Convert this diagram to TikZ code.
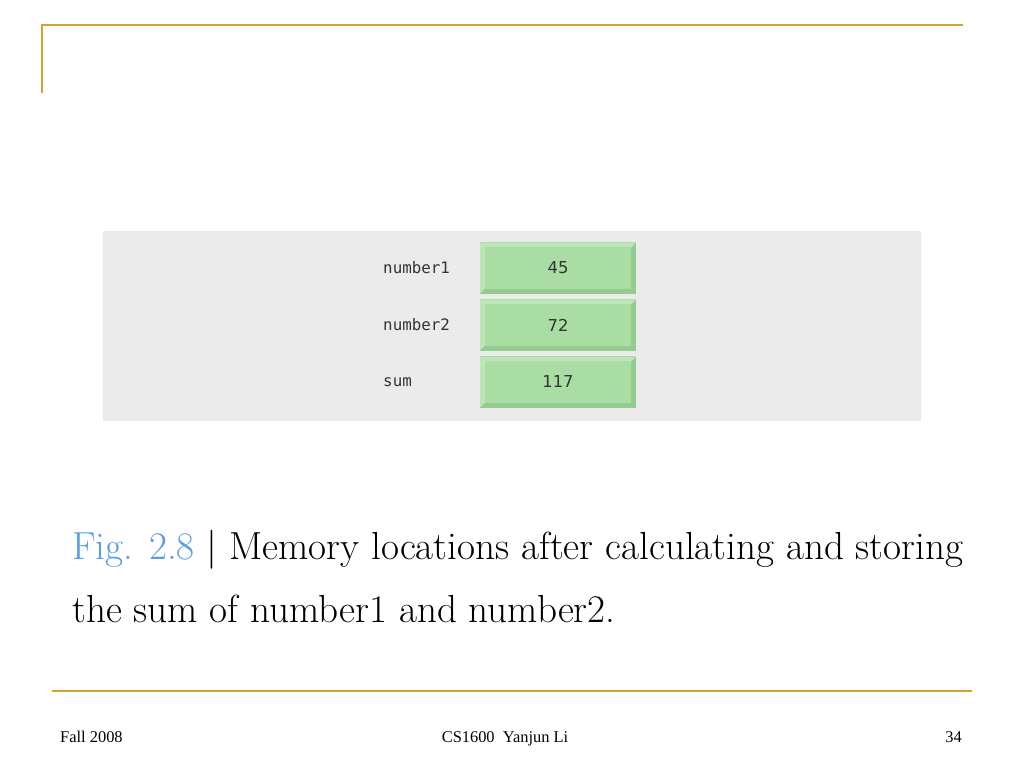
\documentclass[tikz,border=0pt]{standalone}
\usepackage{fontspec}
\setmonofont{DejaVu Sans Mono}
\setsansfont{DejaVu Sans}
\newfontfamily\footfont{Liberation Serif}
\usetikzlibrary{calc}

\definecolor{gold}{HTML}{D4A32C}
\definecolor{panelgray}{HTML}{EBEBEB}
\definecolor{cellface}{HTML}{A9DDA3}
\definecolor{celllight}{HTML}{BCE6B5}
\definecolor{celldark}{HTML}{94CC8F}
\definecolor{figblue}{HTML}{5A9BE6}

\tikzset{
  cell/.style={minimum width=4.68cm,minimum height=1.53cm,inner sep=0pt,
    font=\sffamily\fontsize{14}{16}\selectfont,text=black!80},
  varname/.style={anchor=west,inner sep=0pt,font=\ttfamily\fontsize{13.5}{15}\selectfont,text=black!80},
  caption/.style={anchor=base west,inner sep=0pt,font=\fontsize{33.4}{38}\selectfont},
  footer/.style={anchor=base,inner sep=0pt,font=\footfont\fontsize{14}{16}\selectfont}
}

\begin{document}
\begin{tikzpicture}[x=0.03cm,y=-0.03cm]

    \useasboundingbox (0,0) rectangle (1024,768);

    % 装饰线
    \draw[gold,line width=2.5pt] (42,93) -- (42,25) -- (963,25);
    \draw[gold,line width=2.5pt] (52,691) -- (972,691);

    % 灰色背景
    \fill[panelgray] (103,231) rectangle (921,421);

    % 存储单元
    \foreach \name/\val/\y [count=\i] in {number1/45/268, number2/72/325, sum/117/382} {
        \node[cell] (v\i) at (558,\y) {};
        \fill[celldark] (v\i.north west) rectangle (v\i.south east);
        \fill[celllight] (v\i.north west) -- (v\i.north east) -- ($(v\i.north east)+(-5,5)$)
            -- ($(v\i.south west)+(5,-5)$) -- (v\i.south west) -- cycle;
        \fill[cellface] ($(v\i.north west)+(5,5)$) rectangle ($(v\i.south east)+(-5,-5)$);
        \node[cell] at (v\i) {\val};
        \node[varname] (n\i) at (383,\y) {\name};
    }

    % 图注
    \node[caption] (cap1) at (72,560) {\textcolor{figblue}{Fig. 2.8} | Memory locations after calculating and storing};
    \node[caption] (cap2) at (72,622) {the sum of number1 and number2.};

    % 页脚
    \node[footer,anchor=base west] (f1) at (60,742) {Fall 2008};
    \node[footer] (f2) at (505,742) {CS1600\ \ Yanjun Li};
    \node[footer,anchor=base east] (f3) at (962,742) {34};

\end{tikzpicture}
\end{document}
